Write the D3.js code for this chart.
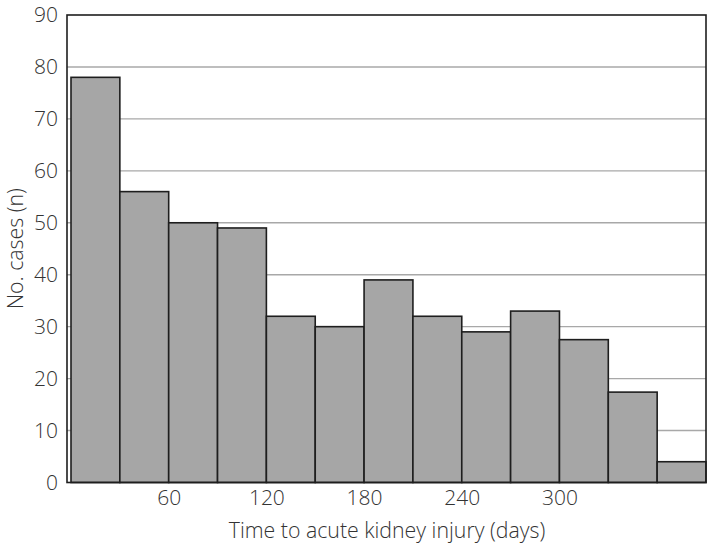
<!DOCTYPE html>
<html>
<head>
<meta charset="utf-8">
<script src="https://cdn.jsdelivr.net/npm/d3@7"></script>
<style>
body { margin: 0; background: #fff; }
text { font-family: "Open Sans", sans-serif; font-weight: 300; fill: #333; }
</style>
</head>
<body>
<svg id="chart" width="709" height="547"></svg>
<script>
const binStarts = [0, 30, 60, 90, 120, 150, 180, 210, 240, 270, 300, 330, 360];
const binWidth = 30;
const counts = [78, 56, 50, 49, 32, 30, 39, 32, 29, 33, 27.5, 17.4, 4];
const xTicks = [60, 120, 180, 240, 300];
const yTicks = [0, 10, 20, 30, 40, 50, 60, 70, 80, 90];
const xTitle = "Time to acute kidney injury (days)";
const yTitle = "No. cases (n)";

const svg = d3.select("#chart");
const frame = { left: 67, right: 706, top: 15, bottom: 482.5 };
const x = d3.scaleLinear().domain([0, 390]).range([71, 706]);
const y = d3.scaleLinear().domain([0, 90]).range([frame.bottom, frame.top]);

// gridlines
svg.append("g").selectAll("line").data(yTicks.filter(d => d > 0 && d < 90)).join("line")
  .attr("x1", frame.left).attr("x2", frame.right)
  .attr("y1", d => y(d)).attr("y2", d => y(d))
  .attr("stroke", "#a8a8a8").attr("stroke-width", 1.4);

// bars
svg.append("g").selectAll("rect").data(binStarts.map((s, i) => ({ s, v: counts[i] }))).join("rect")
  .attr("x", d => x(d.s)).attr("width", d => x(d.s + binWidth) - x(d.s))
  .attr("y", d => y(d.v)).attr("height", d => y(0) - y(d.v))
  .attr("fill", "#a6a6a6").attr("stroke", "#1e1e1e").attr("stroke-width", 1.6);

// frame
svg.append("rect").attr("x", frame.left).attr("y", frame.top)
  .attr("width", frame.right - frame.left).attr("height", frame.bottom - frame.top)
  .attr("fill", "none").attr("stroke", "#1e1e1e").attr("stroke-width", 1.6);

// y axis
const yAxis = svg.append("g").attr("transform", `translate(${frame.left},0)`)
  .call(d3.axisLeft(y).tickValues(yTicks).tickSize(0).tickPadding(9));
yAxis.select(".domain").remove();
yAxis.selectAll("text").style("font-size", "21px").style("font-family", "'Open Sans', sans-serif").attr("fill", "#333");

// x axis
const xAxis = svg.append("g").attr("transform", `translate(0,${frame.bottom})`)
  .call(d3.axisBottom(x).tickValues(xTicks).tickSize(0).tickPadding(8));
xAxis.select(".domain").remove();
xAxis.selectAll("text").style("font-size", "21px").style("font-family", "'Open Sans', sans-serif").attr("fill", "#333");

svg.append("text").attr("x", 387).attr("y", 538).attr("text-anchor", "middle")
  .style("font-size", "21.3px").text(xTitle);
svg.append("text").attr("transform", `translate(23,${(frame.top + frame.bottom) / 2}) rotate(-90)`)
  .attr("text-anchor", "middle").style("font-size", "21.3px").text(yTitle);
</script>
</body>
</html>
